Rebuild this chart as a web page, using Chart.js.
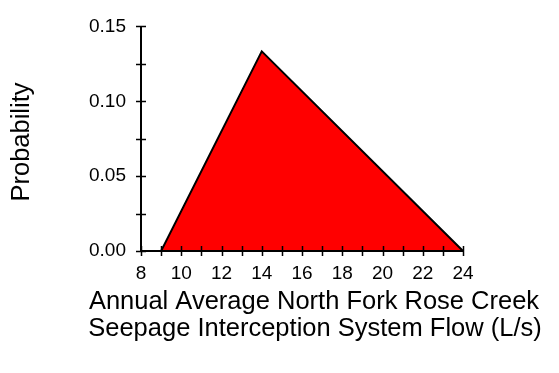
<!DOCTYPE html>
<html>
<head>
<meta charset="utf-8">
<script src="https://cdn.jsdelivr.net/npm/chart.js@4.4.1/dist/chart.umd.min.js"></script>
<style>
  html, body { margin: 0; padding: 0; background: #fff; }
  #wrap { width: 559px; height: 373px; }
</style>
</head>
<body>
<div id="wrap"><canvas id="myChart" width="559" height="373"></canvas></div>
<script>
// triangular distribution
var flowValues = [9, 14, 24];
var probValues = [0, 0.1333, 0];

var xMin = 8, xMax = 24, xStep = 1;
var yMin = 0, yMax = 0.15, yStep = 0.025;

var xTitleLines = ['Annual Average North Fork Rose Creek', 'Seepage Interception System Flow (L/s)'];
var yTitle = 'Probability';

var fontFamily = '"Liberation Sans", Arial, sans-serif';

var points = [];
for (var i = 0; i < flowValues.length; i++) {
    points.push({x: flowValues[i], y: probValues[i]});
}

// ticks cross the axis line, axis lines sit on top of the fill, titles placed by hand
var axisPlugin = {
    id: 'axisPlugin',
    afterDatasetsDraw: function (chart) {
        var ctx = chart.ctx;
        var xs = chart.scales.x, ys = chart.scales.y;
        var area = chart.chartArea;
        ctx.save();
        ctx.strokeStyle = '#000';
        ctx.lineWidth = 2;
        ctx.beginPath();
        ctx.moveTo(area.left, area.top);
        ctx.lineTo(area.left, area.bottom);
        ctx.lineTo(area.right, area.bottom);
        ctx.stroke();
        ctx.lineWidth = 1.5;
        ctx.beginPath();
        xs.ticks.forEach(function (t) {
            var px = Math.round(xs.getPixelForValue(t.value)) + 0.5;
            ctx.moveTo(px, area.bottom - 5);
            ctx.lineTo(px, area.bottom + 5);
        });
        ys.ticks.forEach(function (t) {
            var py = Math.round(ys.getPixelForValue(t.value)) + 0.5;
            ctx.moveTo(area.left - 5, py);
            ctx.lineTo(area.left + 5, py);
        });
        ctx.stroke();
        ctx.restore();
    },
    afterDraw: function (chart) {
        var ctx = chart.ctx;
        ctx.save();
        ctx.fillStyle = '#000';
        ctx.font = '25.5px ' + fontFamily;
        ctx.textAlign = 'center';
        ctx.textBaseline = 'middle';
        ctx.fillText(xTitleLines[0], 314, 302);
        ctx.fillText(xTitleLines[1], 315, 329);
        ctx.translate(22, 142);
        ctx.rotate(-Math.PI / 2);
        ctx.fillText(yTitle, 0, 0);
        ctx.restore();
    }
};

var chartdata = {
    datasets: [
        {
            label: 'Probability',
            data: points,
            backgroundColor: '#ff0000',
            borderColor: '#000000',
            borderWidth: 2,
            pointRadius: 0,
            tension: 0,
            fill: 'origin'
        }
    ]
};

var graphTarget = document.getElementById('myChart');

var areaChart = new Chart(graphTarget, {
    type: 'line',
    data: chartdata,
    plugins: [axisPlugin],
    options: {
        responsive: false,
        animation: false,
        layout: { padding: { top: 25, right: 96, bottom: 0, left: 0 } },
        plugins: {
            legend: { display: false },
            tooltip: { enabled: false }
        },
        scales: {
            x: {
                type: 'linear',
                min: xMin,
                max: xMax,
                grid: { display: false, drawTicks: false },
                border: { display: false },
                ticks: {
                    stepSize: xStep,
                    autoSkip: false,
                    maxRotation: 0,
                    padding: 11,
                    color: '#000',
                    font: { family: fontFamily, size: 19 },
                    callback: function (v) { return v % 2 === 0 ? String(v) : ''; }
                },
                afterFit: function (scale) { scale.height = 122; }
            },
            y: {
                min: yMin,
                max: yMax,
                grid: { display: false, drawTicks: false },
                border: { display: false },
                ticks: {
                    stepSize: yStep,
                    autoSkip: false,
                    padding: 15,
                    color: '#000',
                    font: { family: fontFamily, size: 19 },
                    callback: function (v) {
                        var r = v / 0.05;
                        return Math.abs(r - Math.round(r)) < 1e-6 ? v.toFixed(2) : '';
                    }
                },
                afterFit: function (scale) { scale.width = 141; }
            }
        }
    }
});
</script>
</body>
</html>
